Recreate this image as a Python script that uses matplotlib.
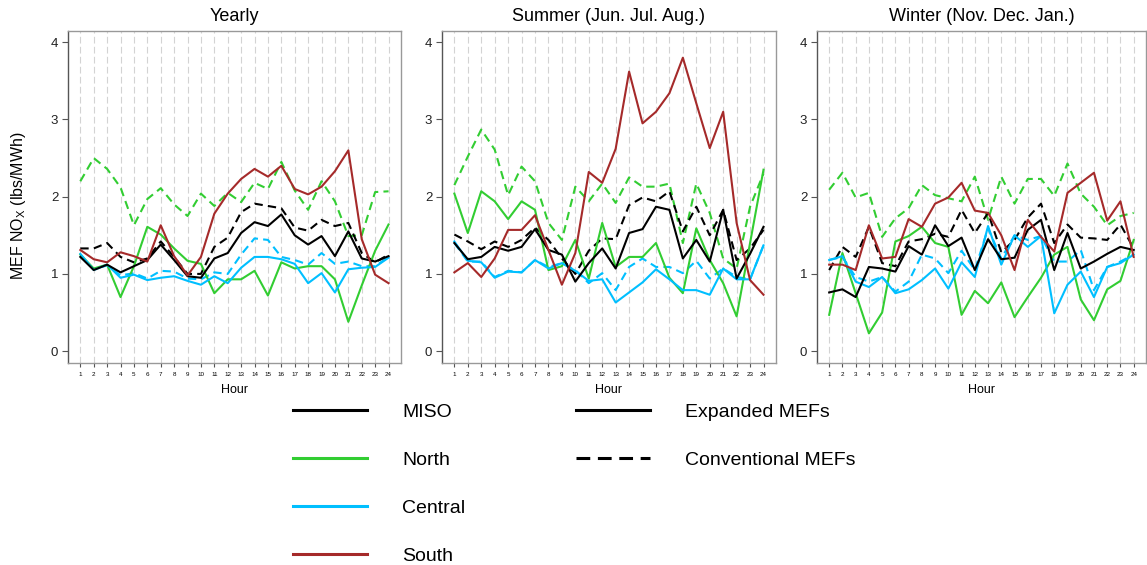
import numpy as np
import matplotlib.pyplot as plt
from matplotlib.lines import Line2D

plt.rcParams['font.family'] = ['Liberation Sans', 'DejaVu Sans']

hours = np.arange(1, 25)

# Yearly marginal emission factors (lbs/MWh)
yr_miso_exp = [1.22, 1.05, 1.12, 1.02, 1.10, 1.18, 1.38, 1.18, 0.97, 0.95, 1.20, 1.27,
               1.53, 1.67, 1.62, 1.77, 1.50, 1.38, 1.49, 1.23, 1.55, 1.20, 1.16, 1.23]
yr_miso_conv = [1.33, 1.33, 1.40, 1.22, 1.15, 1.20, 1.42, 1.22, 1.00, 1.00, 1.35, 1.47,
                1.80, 1.91, 1.88, 1.85, 1.60, 1.56, 1.70, 1.62, 1.66, 1.27, 1.15, 1.25]
yr_north_exp = [1.25, 1.07, 1.12, 0.70, 1.10, 1.61, 1.51, 1.33, 1.17, 1.13, 0.75, 0.93,
                0.93, 1.04, 0.72, 1.15, 1.07, 1.10, 1.10, 0.93, 0.38, 0.85, 1.30, 1.64]
yr_north_conv = [2.20, 2.50, 2.36, 2.12, 1.63, 1.97, 2.11, 1.90, 1.75, 2.04, 1.88, 2.05,
                 1.93, 2.18, 2.10, 2.45, 2.08, 1.83, 2.20, 1.94, 1.49, 1.50, 2.06, 2.07]
yr_central_exp = [1.26, 1.05, 1.12, 0.95, 0.99, 0.92, 0.95, 0.97, 0.91, 0.86, 0.97, 0.88,
                  1.08, 1.22, 1.22, 1.19, 1.13, 0.88, 1.01, 0.76, 1.06, 1.08, 1.09, 1.21]
yr_central_conv = [1.23, 1.06, 1.11, 0.98, 1.01, 0.94, 1.04, 1.03, 0.94, 0.93, 1.02, 1.00,
                   1.25, 1.46, 1.44, 1.22, 1.18, 1.12, 1.27, 1.13, 1.16, 1.10, 1.10, 1.22]
yr_south_exp = [1.31, 1.19, 1.15, 1.28, 1.23, 1.16, 1.63, 1.23, 0.98, 1.22, 1.78, 2.04,
                2.23, 2.36, 2.26, 2.40, 2.10, 2.03, 2.13, 2.33, 2.60, 1.45, 0.99, 0.88]

# Summer (Jun. Jul. Aug.)
su_miso_exp = [1.40, 1.19, 1.22, 1.35, 1.30, 1.35, 1.58, 1.31, 1.25, 0.90, 1.14, 1.33,
               1.07, 1.53, 1.58, 1.87, 1.83, 1.20, 1.44, 1.16, 1.83, 0.94, 1.26, 1.61]
su_miso_conv = [1.51, 1.42, 1.32, 1.42, 1.35, 1.44, 1.60, 1.44, 1.20, 1.00, 1.30, 1.46,
                1.45, 1.89, 1.99, 1.94, 2.07, 1.55, 1.87, 1.50, 1.83, 1.18, 1.33, 1.57]
su_north_exp = [2.04, 1.53, 2.07, 1.94, 1.71, 1.94, 1.83, 1.05, 1.10, 1.44, 0.94, 1.66,
                1.09, 1.22, 1.22, 1.40, 0.95, 0.75, 1.59, 1.18, 0.88, 0.45, 1.40, 2.35]
su_north_conv = [2.15, 2.52, 2.87, 2.61, 2.02, 2.39, 2.20, 1.66, 1.44, 2.13, 1.94, 2.17,
                 1.92, 2.25, 2.13, 2.13, 2.17, 1.40, 2.17, 1.79, 1.20, 1.07, 1.87, 2.30]
su_central_exp = [1.42, 1.17, 1.15, 0.95, 1.03, 1.02, 1.18, 1.07, 1.14, 1.04, 0.91, 0.93,
                  0.63, 0.76, 0.89, 1.06, 0.93, 0.79, 0.79, 0.73, 1.07, 0.93, 0.93, 1.37]
su_central_conv = [1.40, 1.16, 1.16, 0.96, 1.04, 1.02, 1.18, 1.09, 1.14, 1.05, 0.88, 1.01,
                   0.79, 1.09, 1.20, 1.09, 1.09, 1.01, 1.17, 0.94, 1.07, 0.96, 0.93, 1.37]
su_south_exp = [1.02, 1.14, 0.96, 1.20, 1.57, 1.57, 1.76, 1.31, 0.86, 1.27, 2.32, 2.18,
                2.62, 3.62, 2.95, 3.10, 3.34, 3.80, 3.21, 2.63, 3.10, 1.66, 0.92, 0.73]

# Winter (Nov. Dec. Jan.)
wi_miso_exp = [0.76, 0.80, 0.70, 1.09, 1.07, 1.03, 1.36, 1.25, 1.63, 1.36, 1.47, 1.05,
               1.45, 1.19, 1.21, 1.57, 1.70, 1.05, 1.53, 1.07, 1.16, 1.26, 1.35, 1.31]
wi_miso_conv = [1.05, 1.35, 1.22, 1.61, 1.14, 1.10, 1.42, 1.45, 1.52, 1.48, 1.83, 1.53,
                1.79, 1.28, 1.44, 1.73, 1.91, 1.40, 1.64, 1.47, 1.46, 1.44, 1.64, 1.33]
wi_north_exp = [0.47, 1.27, 0.75, 0.23, 0.50, 1.42, 1.49, 1.61, 1.40, 1.35, 0.47, 0.78,
                0.62, 0.89, 0.44, 0.70, 0.95, 1.25, 1.35, 0.67, 0.40, 0.80, 0.91, 1.44]
wi_north_conv = [2.09, 2.31, 1.99, 2.05, 1.48, 1.72, 1.85, 2.15, 2.02, 1.98, 1.94, 2.26,
                 1.70, 2.26, 1.91, 2.23, 2.23, 2.01, 2.43, 2.04, 1.87, 1.63, 1.75, 1.79]
wi_central_exp = [1.18, 1.23, 0.90, 0.83, 0.96, 0.75, 0.80, 0.92, 1.07, 0.81, 1.15, 0.96,
                  1.62, 1.12, 1.50, 1.35, 1.49, 0.49, 0.86, 1.03, 0.70, 1.09, 1.14, 1.25]
wi_central_conv = [1.18, 1.22, 0.96, 0.90, 0.96, 0.77, 0.90, 1.25, 1.20, 1.01, 1.30, 1.05,
                   1.59, 1.20, 1.50, 1.44, 1.49, 1.16, 1.16, 1.31, 0.79, 1.09, 1.16, 1.25]
wi_south_exp = [1.12, 1.12, 1.05, 1.63, 1.20, 1.22, 1.71, 1.61, 1.91, 1.99, 2.18, 1.82,
                1.79, 1.50, 1.05, 1.70, 1.48, 1.29, 2.05, 2.18, 2.31, 1.69, 1.94, 1.22]

titles = ['Yearly', 'Summer (Jun. Jul. Aug.)', 'Winter (Nov. Dec. Jan.)']
regions = ['MISO', 'North', 'Central', 'South']
colors = {'MISO': 'black', 'North': 'limegreen', 'Central': 'deepskyblue', 'South': 'brown'}

panels = [
    {'MISO': (yr_miso_exp, yr_miso_conv), 'North': (yr_north_exp, yr_north_conv),
     'Central': (yr_central_exp, yr_central_conv), 'South': (yr_south_exp, None)},
    {'MISO': (su_miso_exp, su_miso_conv), 'North': (su_north_exp, su_north_conv),
     'Central': (su_central_exp, su_central_conv), 'South': (su_south_exp, None)},
    {'MISO': (wi_miso_exp, wi_miso_conv), 'North': (wi_north_exp, wi_north_conv),
     'Central': (wi_central_exp, wi_central_conv), 'South': (wi_south_exp, None)},
]

fig = plt.figure(figsize=(11.47, 5.65), dpi=100)
W, H = 1147, 565
lefts = [68, 442, 817]
widths = [333, 334, 329]
top, bottom = 30.7, 362.7
dash = (4, 2.5)

for i, data in enumerate(panels):
    ax = fig.add_axes([lefts[i] / W, 1 - bottom / H, widths[i] / W, (bottom - top) / H])

    # dashed hour grid
    for h in hours:
        ax.axvline(h, color='#d3d3d3', lw=0.8, dashes=(6, 3), zorder=0)

    # conventional first, expanded on top
    for r in ['North', 'Central', 'MISO']:
        ax.plot(hours, data[r][1], color=colors[r], lw=1.5, dashes=dash)
    for r in ['North', 'Central', 'MISO', 'South']:
        ax.plot(hours, data[r][0], color=colors[r], lw=1.5)

    ax.set_xlim(0.08, 24.93)
    ax.set_ylim(-0.15, 4.15)
    ax.set_xticks(hours)
    ax.set_xticklabels([str(h) for h in hours], fontsize=4.5)
    ax.set_yticks([0, 1, 2, 3, 4])
    ax.set_yticklabels(['0', '1', '2', '3', '4'], fontsize=9.5, color='#222222')
    ax.tick_params(axis='x', length=3, width=0.8, color='#555555', pad=4)
    ax.tick_params(axis='y', length=4, width=0.8, color='#555555', pad=3)
    for side in ['top', 'right', 'bottom']:
        ax.spines[side].set_color('#999999')
    ax.spines['left'].set_color('#555555')
    for s in ax.spines.values():
        s.set_linewidth(1.0)
    ax.set_xlabel('Hour', fontsize=9, labelpad=5)
    ax.set_title(titles[i], fontsize=13, pad=7)

fig.text(19 / W, 1 - 206 / H, r'MEF NO$_\mathregular{X}$ (lbs/MWh)', rotation=90,
         ha='center', va='center', fontsize=11.5)

# legends below the panels
region_handles = [Line2D([], [], color=colors[r], lw=2.2) for r in regions]
fig.legend(region_handles, regions, loc='upper left',
           bbox_to_anchor=(293 / W, 1 - 403 / H), frameon=False, fontsize=14,
           handlelength=3.8, handletextpad=1.8, labelspacing=1.57,
           borderpad=0, borderaxespad=0)
style_handles = [Line2D([], [], color='black', lw=2.2),
                 Line2D([], [], color='black', lw=2.2, dashes=(4.5, 2.5))]
fig.legend(style_handles, ['Expanded MEFs', 'Conventional MEFs'], loc='upper left',
           bbox_to_anchor=(576 / W, 1 - 403 / H), frameon=False, fontsize=14,
           handlelength=3.8, handletextpad=1.8, labelspacing=1.57,
           borderpad=0, borderaxespad=0)

plt.savefig('out.png', dpi=100)
